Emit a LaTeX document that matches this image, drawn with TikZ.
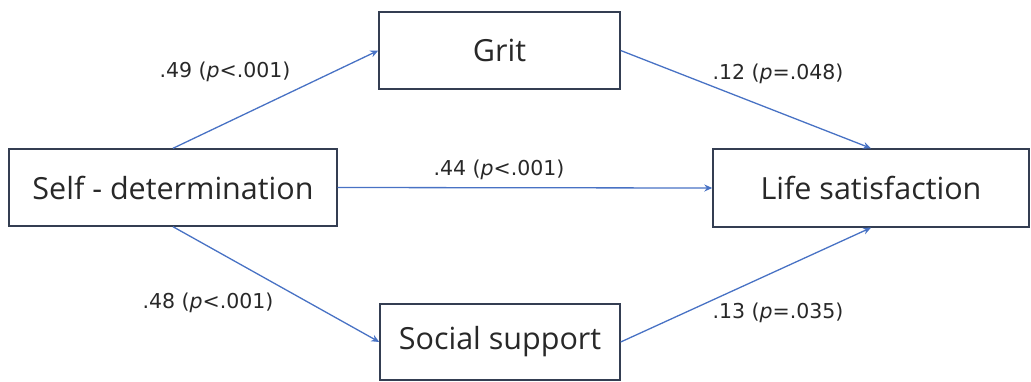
\documentclass[tikz,border=0pt]{standalone}
\usepackage{fontspec}
\setmainfont{Open Sans}
\newfontfamily\coeffont{DejaVu Sans}
\usetikzlibrary{arrows.meta}
\definecolor{boxline}{RGB}{52,62,82}
\definecolor{pathblue}{RGB}{72,114,196}
\definecolor{txt}{RGB}{40,40,40}
\begin{document}
\begin{tikzpicture}[x=1pt,y=-1pt,
  var/.style={draw=boxline, line width=1.4pt, fill=white, text=txt,
    inner sep=0pt, font=\fontsize{30.5}{36}\selectfont},
  path/.style={draw=pathblue, line width=1.3pt, -{Stealth[length=8pt,width=7pt]}},
  coef/.style={text=txt, inner sep=0pt, font=\coeffont\fontsize{20.5}{24}\selectfont}]
  \useasboundingbox (0,0) rectangle (1031,381);
  % variables
  \node[var, minimum width=328pt, minimum height=77pt] (sd) at (173,187.5) {Self - determination};
  \node[var, minimum width=241pt, minimum height=77pt] (grit) at (499.5,50.5) {Grit};
  \node[var, minimum width=240pt, minimum height=76pt] (ss) at (500,342) {Social support};
  \node[var, minimum width=316pt, minimum height=78pt] (ls) at (871,188) {Life satisfaction};
  % paths
  \draw[path] (sd.north) -- (grit.west);
  \draw[path] (sd.south) -- (ss.west);
  \draw[path] (sd.east) -- (ls.west);
  \draw[path] (grit.east) -- (ls.north);
  \draw[path] (ss.east) -- (ls.south);
  % coefficients
  \node[coef] (c1) at (225,72) {.49 (\textit{p}<.001)};
  \node[coef] (c2) at (778,74) {.12 (\textit{p}=.048)};
  \node[coef] (c3) at (499,170) {.44 (\textit{p}<.001)};
  \node[coef] (c4) at (208,303) {.48 (\textit{p}<.001)};
  \node[coef] (c5) at (778,313) {.13 (\textit{p}=.035)};
\end{tikzpicture}
\end{document}
